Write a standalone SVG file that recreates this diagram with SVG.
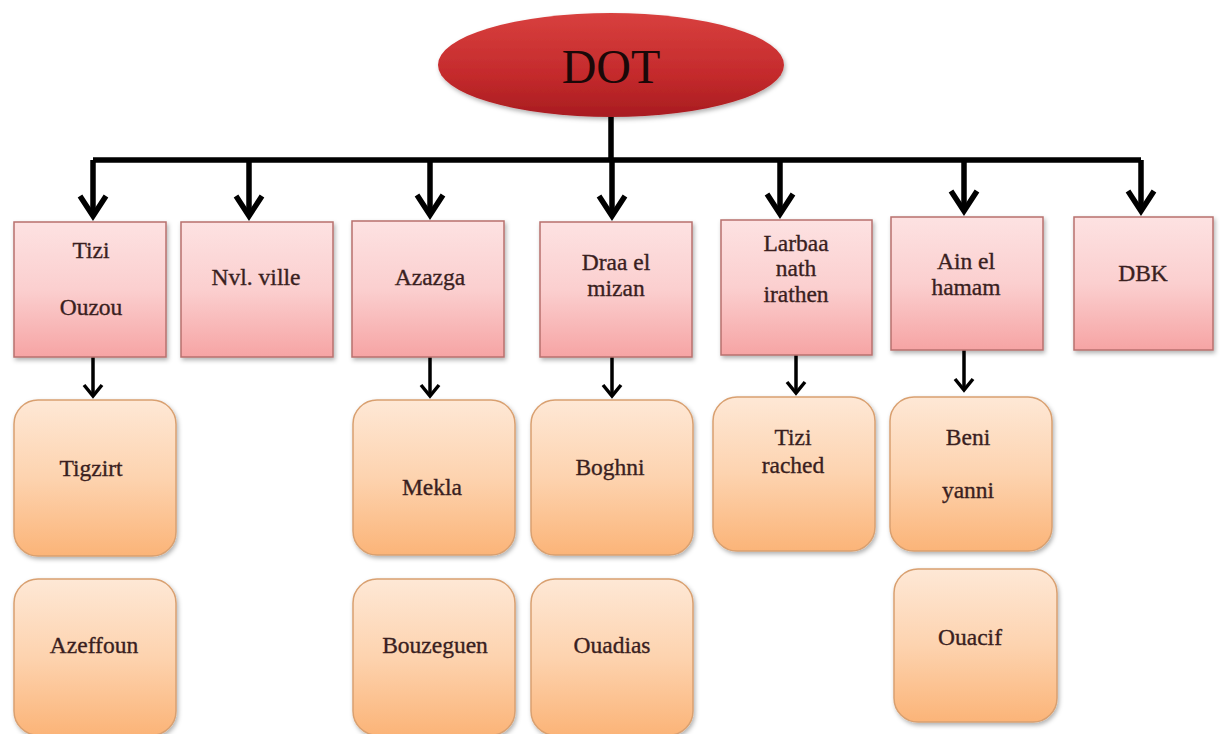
<svg xmlns="http://www.w3.org/2000/svg" width="1224" height="734" viewBox="0 0 1224 734">
<style>
.lbl{font-family:"Liberation Serif","Times New Roman",serif;font-size:23.5px;fill:#3a1f1f;stroke:#3a1f1f;stroke-width:0.35;text-anchor:middle;dominant-baseline:central}
.pink{fill:url(#gPink);stroke:#b8706e;stroke-width:1.5;filter:url(#sh)}
.org{fill:url(#gOrg);stroke:#d9a070;stroke-width:1.5;filter:url(#sh)}
.bar{stroke:#000;stroke-width:5.5;fill:none}
.thin{stroke:#000;stroke-width:3.5;fill:none}
</style>
<defs>
<linearGradient id="gPink" x1="0" y1="0" x2="0" y2="1"><stop offset="0" stop-color="#fde2e2"/><stop offset="0.5" stop-color="#fbcfcf"/><stop offset="1" stop-color="#f6a4a4"/></linearGradient>
<linearGradient id="gOrg" x1="0" y1="0" x2="0" y2="1"><stop offset="0" stop-color="#fee8d6"/><stop offset="0.5" stop-color="#fdd3af"/><stop offset="1" stop-color="#fbb478"/></linearGradient>
<linearGradient id="gRed" x1="0" y1="0" x2="0" y2="1"><stop offset="0" stop-color="#d8403e"/><stop offset="0.6" stop-color="#c42a2c"/><stop offset="1" stop-color="#a81c20"/></linearGradient>
<filter id="sh" x="-10%" y="-10%" width="125%" height="125%"><feDropShadow dx="1.5" dy="2.5" stdDeviation="2" flood-color="#000" flood-opacity="0.3"/></filter>
</defs>

<g id="connectors">
<path class="bar" d="M611,116 V160 M93,160 H1141"/>
<g class="bar">
<path d="M93,160 V216"/><path d="M80,196 L93,216 L106,196"/>
<path d="M249,160 V216"/><path d="M236,196 L249,216 L262,196"/>
<path d="M430,160 V215"/><path d="M417,195 L430,215 L443,195"/>
<path d="M612,160 V216"/><path d="M599,196 L612,216 L625,196"/>
<path d="M780,160 V214"/><path d="M767,194 L780,214 L793,194"/>
<path d="M964,160 V211"/><path d="M951,191 L964,211 L977,191"/>
<path d="M1141,160 V211"/><path d="M1128,191 L1141,211 L1154,191"/>
</g>
<g class="thin">
<path d="M93,357 V396"/><path d="M84,385 L93,396 L102,385"/>
<path d="M430,357 V396"/><path d="M421,385 L430,396 L439,385"/>
<path d="M612,357 V396"/><path d="M603,385 L612,396 L621,385"/>
<path d="M796,355 V393"/><path d="M787,382 L796,393 L805,382"/>
<path d="M964,350 V390"/><path d="M955,379 L964,390 L973,379"/>
</g>
</g>

<g id="dot">
<ellipse cx="611" cy="65" rx="173" ry="52" fill="url(#gRed)" filter="url(#sh)"/>
<text x="611" y="66" style="font-family:'Liberation Serif','Times New Roman',serif;font-size:48px;fill:#1a0808;text-anchor:middle;dominant-baseline:central">DOT</text>
</g>

<g id="tizi-ouzou"><rect class="pink" x="14" y="222" width="152" height="135"/><text class="lbl" x="91" y="250">Tizi</text><text class="lbl" x="91" y="307">Ouzou</text></g>
<g id="nvl-ville"><rect class="pink" x="181" y="222" width="152" height="135"/><text class="lbl" x="256" y="277">Nvl. ville</text></g>
<g id="azazga"><rect class="pink" x="352" y="221" width="152" height="136"/><text class="lbl" x="430" y="277">Azazga</text></g>
<g id="draa-el-mizan"><rect class="pink" x="540" y="222" width="152" height="135"/><text class="lbl" x="616" y="262">Draa el</text><text class="lbl" x="616" y="288">mizan</text></g>
<g id="larbaa"><rect class="pink" x="721" y="220" width="151" height="135"/><text class="lbl" x="796" y="243">Larbaa</text><text class="lbl" x="796" y="268">nath</text><text class="lbl" x="796" y="294">irathen</text></g>
<g id="ain-el-hamam"><rect class="pink" x="891" y="217" width="152" height="133"/><text class="lbl" x="966" y="261">Ain el</text><text class="lbl" x="966" y="287">hamam</text></g>
<g id="dbk"><rect class="pink" x="1074" y="217" width="139" height="133"/><text class="lbl" x="1143" y="273">DBK</text></g>

<g id="tigzirt"><rect class="org" x="14" y="400" width="162" height="156" rx="24"/><text class="lbl" x="91" y="468">Tigzirt</text></g>
<g id="azeffoun"><rect class="org" x="14" y="579" width="162" height="156" rx="24"/><text class="lbl" x="94" y="645">Azeffoun</text></g>
<g id="mekla"><rect class="org" x="353" y="400" width="162" height="155" rx="24"/><text class="lbl" x="432" y="487">Mekla</text></g>
<g id="bouzeguen"><rect class="org" x="353" y="579" width="162" height="156" rx="24"/><text class="lbl" x="435" y="645">Bouzeguen</text></g>
<g id="boghni"><rect class="org" x="531" y="400" width="162" height="155" rx="24"/><text class="lbl" x="610" y="467">Boghni</text></g>
<g id="ouadias"><rect class="org" x="531" y="579" width="162" height="156" rx="24"/><text class="lbl" x="612" y="645">Ouadias</text></g>
<g id="tizi-rached"><rect class="org" x="713" y="397" width="162" height="154" rx="24"/><text class="lbl" x="793" y="437">Tizi</text><text class="lbl" x="793" y="465">rached</text></g>
<g id="beni-yanni"><rect class="org" x="890" y="397" width="162" height="154" rx="24"/><text class="lbl" x="968" y="437">Beni</text><text class="lbl" x="968" y="490">yanni</text></g>
<g id="ouacif"><rect class="org" x="894" y="569" width="163" height="153" rx="24"/><text class="lbl" x="970" y="637">Ouacif</text></g>
</svg>
